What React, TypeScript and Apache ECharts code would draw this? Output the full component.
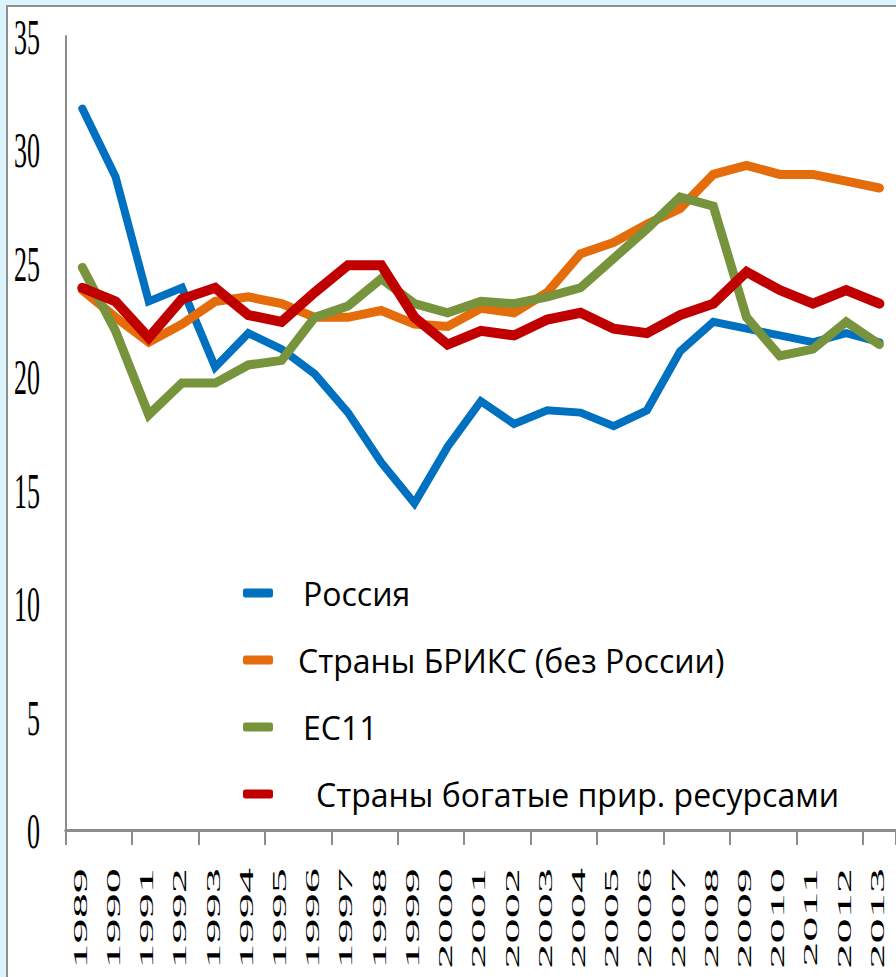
import React, { useEffect, useRef } from "react";
import * as echarts from "echarts";

const years = ["1989","1990","1991","1992","1993","1994","1995","1996","1997","1998","1999","2000","2001","2002","2003","2004","2005","2006","2007","2008","2009","2010","2011","2012","2013"];
const russia = [31.8,28.8,23.3,23.9,20.4,21.9,21.2,20.1,18.4,16.2,14.4,16.9,18.9,17.9,18.5,18.4,17.8,18.5,21.1,22.4,22.1,21.8,21.5,21.9,21.5];
const brics = [23.8,22.6,21.5,22.3,23.3,23.5,23.2,22.6,22.6,22.9,22.3,22.2,23.0,22.8,23.7,25.4,25.9,26.7,27.4,28.9,29.3,28.9,28.9,28.6,28.3];
const eu11 = [24.8,22.0,18.3,19.7,19.7,20.5,20.7,22.6,23.1,24.3,23.2,22.8,23.3,23.2,23.5,23.9,25.2,26.5,27.9,27.5,22.6,20.9,21.2,22.4,21.4];
const resource = [23.9,23.3,21.7,23.4,23.9,22.7,22.4,23.7,24.9,24.9,22.6,21.4,22.0,21.8,22.5,22.8,22.1,21.9,22.7,23.2,24.6,23.8,23.2,23.8,23.2];
const seriesNames = ["Россия", "Страны БРИКС (без России)", "ЕС11", "Страны богатые прир. ресурсами"];
const yTicks = [0, 5, 10, 15, 20, 25, 30, 35];

export default function App() {
  const ref = useRef<HTMLDivElement>(null);
  useEffect(() => {
    if (!ref.current) return;
    const chart = echarts.init(ref.current, null, { renderer: "svg" });
    const gray = "#8c8c8c";
    const mk = (name: string, data: number[], color: string, width: number, z: number) => ({
      name,
      type: "line",
      data,
      symbol: "none",
      z,
      itemStyle: { color },
      lineStyle: { color, width, cap: "round", join: "miter" },
    });
    const pads = [25, 20, 25, 38];
    chart.setOption({
      animation: false,
      grid: { left: 65.7, top: 36, bottom: 147, right: -5 },
      legend: {
        orient: "vertical",
        left: 238,
        top: 569,
        itemWidth: 30,
        itemHeight: 9,
        itemGap: 29,
        icon: "roundRect",
        data: seriesNames.map((n, i) => ({
          name: n,
          textStyle: {
            fontFamily: "Open Sans",
            fontSize: 32,
            lineHeight: 38,
            color: "#000",
            padding: [0, 0, 0, pads[i]],
          },
        })),
        textStyle: {
          fontFamily: "Open Sans",
          fontSize: 32,
          lineHeight: 38,
          color: "#000",
        },
      },
      xAxis: {
        type: "category",
        data: years,
        boundaryGap: true,
        axisLine: { show: true, lineStyle: { color: gray, width: 3 } },
        axisTick: { show: true, length: 15, lineStyle: { color: gray, width: 2 } },
        axisLabel: { show: false },
        splitLine: { show: false },
      },
      yAxis: {
        type: "value",
        min: 0,
        max: 35,
        interval: 5,
        axisLine: { show: true, lineStyle: { color: gray, width: 2 } },
        axisTick: { show: false },
        axisLabel: { show: false },
        splitLine: { show: false },
      },
      series: [
        mk(seriesNames[0], russia, "#0070c0", 8, 2),
        mk(seriesNames[1], brics, "#e46c0a", 9, 3),
        mk(seriesNames[2], eu11, "#77933c", 9, 4),
        mk(seriesNames[3], resource, "#c00000", 10, 5),
      ],
    });
    const els: any[] = [];
    yTicks.forEach((v) => {
      const py = chart.convertToPixel({ yAxisIndex: 0 }, v) as number;
      els.push({
        type: "text",
        x: 40,
        y: py + 1,
        scaleX: 0.52,
        style: {
          text: String(v),
          fontFamily: "Liberation Serif",
          fontSize: 50,
          fill: "#000",
          align: "right",
          verticalAlign: "middle",
        },
      });
    });
    years.forEach((yr, i) => {
      const px = chart.convertToPixel({ xAxisIndex: 0 }, i) as number;
      els.push({
        type: "text",
        x: px - 2,
        y: 868,
        rotation: Math.PI / 2,
        scaleX: 2.65,
        style: {
          text: yr,
          fontFamily: "Liberation Serif",
          fontSize: 19,
          fill: "#000",
          align: "right",
          verticalAlign: "middle",
        },
      });
    });
    chart.setOption({ graphic: { elements: els } });
    return () => chart.dispose();
  }, []);
  return (
    <div style={{ position: "absolute", left: 0, top: 0, width: 896, height: 977, background: "#dbf3fc", overflow: "hidden" }}>
      <div style={{ position: "absolute", left: 6, top: 5, width: 900, height: 990, background: "#fff", borderLeft: "2px solid #8f8f8f", borderTop: "2px solid #8f8f8f" }} />
      <div ref={ref} style={{ position: "absolute", left: 0, top: 0, width: 896, height: 977 }} />
    </div>
  );
}
